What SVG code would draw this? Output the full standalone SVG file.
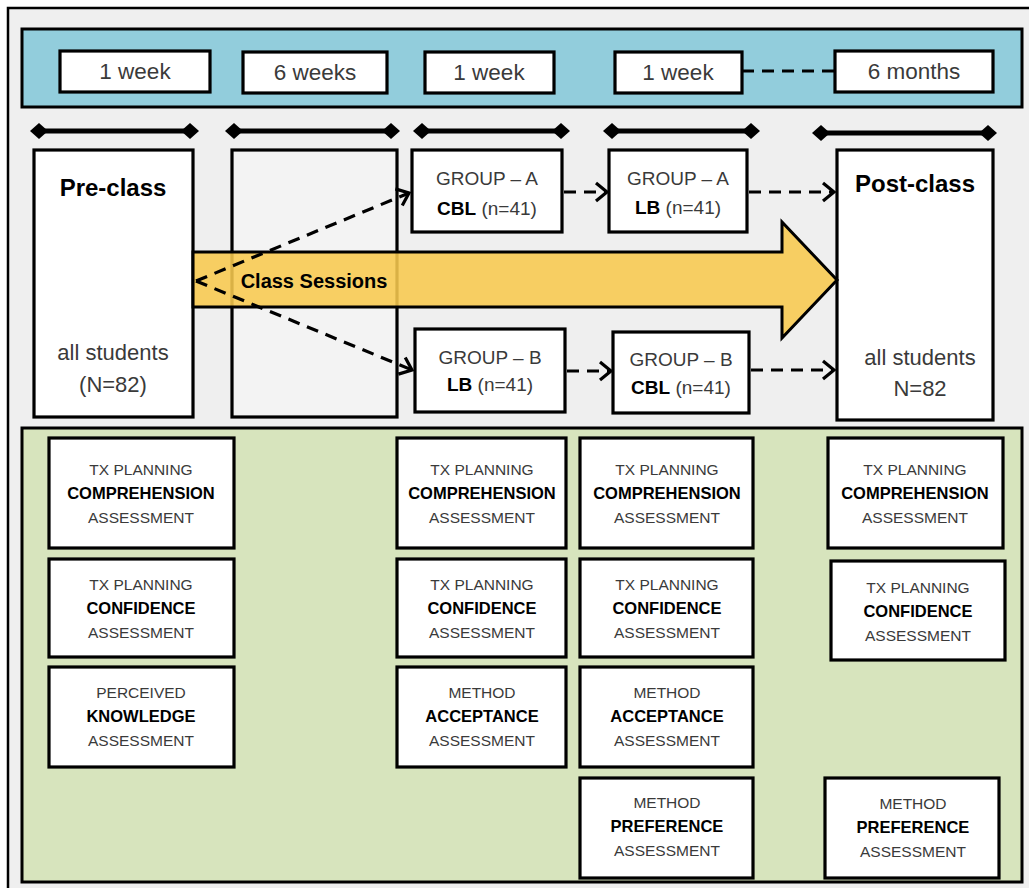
<svg xmlns="http://www.w3.org/2000/svg" width="1029" height="888" viewBox="0 0 1029 888">
<style>
.box{fill:#fff;stroke:#000;stroke-width:3.2}
.t{font-family:"Liberation Sans",Arial,sans-serif;fill:#3a3a3a;text-anchor:middle}
.b{font-weight:bold;fill:#000}
.tl{font-size:22.5px}
.gr{font-size:19px}
.as{font-size:15.5px}
.asb{font-size:16.5px}
.bar{stroke:#000;stroke-width:5;marker-start:url(#dia);marker-end:url(#dia)}
.dash{fill:none;stroke:#000;stroke-width:3.2;stroke-dasharray:12 8;marker-end:url(#chev)}
</style>
<defs>
<marker id="dia" viewBox="-9 -8 18 16" refX="0" refY="0" markerWidth="18" markerHeight="16" markerUnits="userSpaceOnUse" orient="auto">
<path d="M-9,0 L0,-8 L9,0 L0,8 Z" fill="#000"/>
</marker>
<marker id="chev" viewBox="-13 -11 16 22" refX="0" refY="0" markerWidth="16" markerHeight="22" markerUnits="userSpaceOnUse" orient="auto">
<path d="M-11,-9 L0,0 L-11,9" fill="none" stroke="#000" stroke-width="3.2" stroke-dasharray="none"/>
</marker>
</defs>
<rect x="0" y="0" width="1029" height="888" fill="#fff"/>
<rect x="8" y="8" width="1030" height="890" fill="#efefef" stroke="#000" stroke-width="2.5"/>

<g id="timeline">
<rect x="22" y="29" width="1000" height="78" fill="#92cddc" stroke="#000" stroke-width="3"/>
<g id="t1"><rect class="box" x="60" y="51" width="150" height="41"/><text class="t tl" x="135" y="79">1 week</text></g>
<g id="t2"><rect class="box" x="243" y="52" width="144" height="41"/><text class="t tl" x="315" y="80">6 weeks</text></g>
<g id="t3"><rect class="box" x="425" y="52" width="129" height="41"/><text class="t tl" x="489" y="80">1 week</text></g>
<g id="t4"><rect class="box" x="615" y="52" width="127" height="41"/><text class="t tl" x="678" y="80">1 week</text></g>
<g id="t5"><rect class="box" x="835" y="51" width="158" height="41"/><text class="t tl" x="914" y="79">6 months</text></g>
</g>

<g id="bars">
<line class="bar" x1="39" y1="131" x2="190" y2="131"/>
<line class="bar" x1="234" y1="131" x2="391" y2="131"/>
<line class="bar" x1="422" y1="131" x2="561" y2="131"/>
<line class="bar" x1="612" y1="131" x2="751" y2="131"/>
<line class="bar" x1="821" y1="133" x2="988" y2="133"/>
</g>

<g id="sixweeks"><rect x="232" y="150" width="165" height="267" fill="#f3f3f3" stroke="#000" stroke-width="3.2"/></g>
<g id="preclass">
<rect class="box" x="34" y="150" width="159" height="267"/>
<text class="t b" x="113" y="196" font-size="24">Pre-class</text>
<text class="t" x="113" y="360" font-size="22">all students</text>
<text class="t" x="113" y="392" font-size="22">(N=82)</text>
</g>
<g id="groupA1">
<rect class="box" x="412" y="150" width="150" height="82"/>
<text class="t gr" x="487" y="185">GROUP – A</text>
<text class="t gr" x="487" y="215"><tspan class="b">CBL</tspan> (n=41)</text>
</g>
<g id="groupA2">
<rect class="box" x="609" y="150" width="138" height="82"/>
<text class="t gr" x="678" y="185">GROUP – A</text>
<text class="t gr" x="678" y="214"><tspan class="b">LB</tspan> (n=41)</text>
</g>
<g id="groupB1">
<rect class="box" x="415" y="329" width="150" height="83"/>
<text class="t gr" x="490" y="364">GROUP – B</text>
<text class="t gr" x="490" y="391"><tspan class="b">LB</tspan> (n=41)</text>
</g>
<g id="groupB2">
<rect class="box" x="613" y="332" width="136" height="81"/>
<text class="t gr" x="681" y="366">GROUP – B</text>
<text class="t gr" x="681" y="394"><tspan class="b">CBL</tspan> (n=41)</text>
</g>
<g id="postclass">
<rect class="box" x="837" y="150" width="156" height="270"/>
<text class="t b" x="915" y="192" font-size="24">Post-class</text>
<text class="t" x="920" y="365" font-size="22">all students</text>
<text class="t" x="920" y="396" font-size="22">N=82</text>
</g>

<g id="classSessions">
<path d="M193,252 L782,252 L782,222 L837,280 L782,338 L782,307 L193,307 Z" fill="#f8c94e" fill-opacity="0.88" stroke="#000" stroke-width="3" stroke-linejoin="miter"/>
<text class="t b" x="314" y="288" font-size="20">Class Sessions</text>
</g>

<g id="connectors">
<line x1="742" y1="71" x2="835" y2="71" stroke="#000" stroke-width="3" stroke-dasharray="12 8"/>
<path class="dash" d="M196,281 L409,193"/>
<path class="dash" d="M196,281 L412,370"/>
<path class="dash" d="M564,192 L607,192"/>
<path class="dash" d="M749,192 L834,192"/>
<path class="dash" d="M567,371 L611,371"/>
<path class="dash" d="M751,370 L834,370"/>
</g>

<g id="assessments">
<rect x="22" y="428" width="1000" height="454" fill="#d7e4bd" stroke="#000" stroke-width="3"/>
<g id="a1"><rect class="box" x="49" y="438" width="185" height="110"/><text class="t as" x="141" y="475">TX PLANNING</text><text class="t asb b" x="141" y="499">COMPREHENSION</text><text class="t as" x="141" y="523">ASSESSMENT</text></g>
<g id="a2"><rect class="box" x="49" y="559" width="185" height="98"/><text class="t as" x="141" y="590">TX PLANNING</text><text class="t asb b" x="141" y="614">CONFIDENCE</text><text class="t as" x="141" y="638">ASSESSMENT</text></g>
<g id="a3"><rect class="box" x="49" y="667" width="185" height="100"/><text class="t as" x="141" y="698">PERCEIVED</text><text class="t asb b" x="141" y="722">KNOWLEDGE</text><text class="t as" x="141" y="746">ASSESSMENT</text></g>

<g id="b1"><rect class="box" x="397" y="438" width="169" height="110"/><text class="t as" x="482" y="475">TX PLANNING</text><text class="t asb b" x="482" y="499">COMPREHENSION</text><text class="t as" x="482" y="523">ASSESSMENT</text></g>
<g id="b2"><rect class="box" x="397" y="559" width="169" height="98"/><text class="t as" x="482" y="590">TX PLANNING</text><text class="t asb b" x="482" y="614">CONFIDENCE</text><text class="t as" x="482" y="638">ASSESSMENT</text></g>
<g id="b3"><rect class="box" x="397" y="667" width="169" height="100"/><text class="t as" x="482" y="698">METHOD</text><text class="t asb b" x="482" y="722">ACCEPTANCE</text><text class="t as" x="482" y="746">ASSESSMENT</text></g>

<g id="c1"><rect class="box" x="580" y="438" width="173" height="110"/><text class="t as" x="667" y="475">TX PLANNING</text><text class="t asb b" x="667" y="499">COMPREHENSION</text><text class="t as" x="667" y="523">ASSESSMENT</text></g>
<g id="c2"><rect class="box" x="580" y="559" width="173" height="98"/><text class="t as" x="667" y="590">TX PLANNING</text><text class="t asb b" x="667" y="614">CONFIDENCE</text><text class="t as" x="667" y="638">ASSESSMENT</text></g>
<g id="c3"><rect class="box" x="580" y="667" width="173" height="100"/><text class="t as" x="667" y="698">METHOD</text><text class="t asb b" x="667" y="722">ACCEPTANCE</text><text class="t as" x="667" y="746">ASSESSMENT</text></g>
<g id="c4"><rect class="box" x="580" y="778" width="173" height="100"/><text class="t as" x="667" y="808">METHOD</text><text class="t asb b" x="667" y="832">PREFERENCE</text><text class="t as" x="667" y="856">ASSESSMENT</text></g>

<g id="d1"><rect class="box" x="828" y="438" width="175" height="110"/><text class="t as" x="915" y="475">TX PLANNING</text><text class="t asb b" x="915" y="499">COMPREHENSION</text><text class="t as" x="915" y="523">ASSESSMENT</text></g>
<g id="d2"><rect class="box" x="831" y="561" width="174" height="99"/><text class="t as" x="918" y="593">TX PLANNING</text><text class="t asb b" x="918" y="617">CONFIDENCE</text><text class="t as" x="918" y="641">ASSESSMENT</text></g>
<g id="d4"><rect class="box" x="825" y="778" width="174" height="100"/><text class="t as" x="913" y="809">METHOD</text><text class="t asb b" x="913" y="833">PREFERENCE</text><text class="t as" x="913" y="857">ASSESSMENT</text></g>
</g>
</svg>
